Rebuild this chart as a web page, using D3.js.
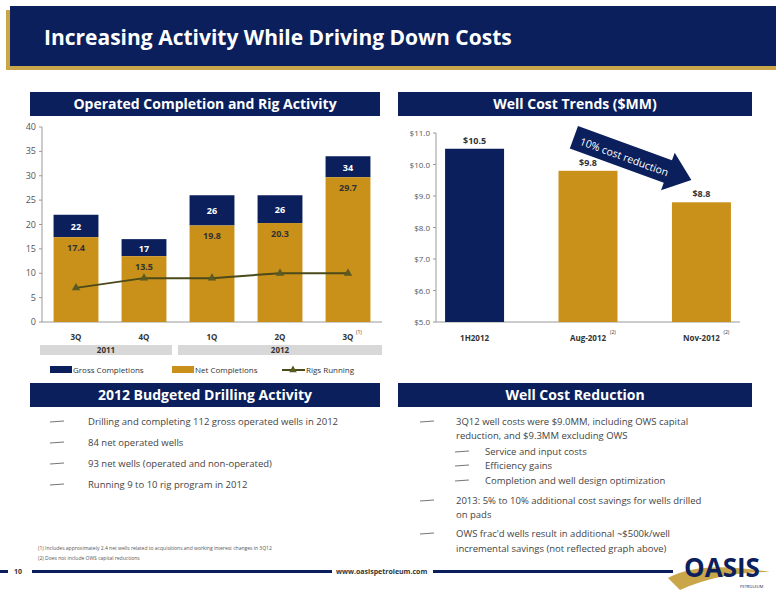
<!DOCTYPE html><html><head><meta charset="utf-8">
<script src="https://cdn.jsdelivr.net/npm/d3@7"></script>
<style>body{margin:0;background:#fff}svg{display:block;font-family:"Open Sans",sans-serif}</style></head><body>
<svg id="s" width="776" height="600"></svg>
<script>
const quarters=["3Q","4Q","1Q","2Q","3Q"];
const gross=[22,17,26,26,34];
const net=[17.4,13.5,19.8,20.3,29.7];
const rigs=[7,9,9,10,10];
const yTicksL=[0,5,10,15,20,25,30,35,40];
const costCats=["1H2012","Aug-2012","Nov-2012"];
const costVals=[10.5,9.8,8.8];
const yTicksR=[5,6,7,8,9,10,11];
const leftBullets=["Drilling and completing 112 gross operated wells in 2012","84 net operated wells","93 net wells (operated and non-operated)","Running 9 to 10 rig program in 2012"];
const NAVY="#0b1f5c",GOLD="#c9901a",GRAY="#555";
const svg=d3.select("#s");
svg.append("rect").attr("x",6).attr("y",10).attr("width",770).attr("height",60).attr("fill","#c9a64a");
svg.append("rect").attr("x",10).attr("y",6).attr("width",766).attr("height",60).attr("fill",NAVY);
svg.append("text").attr("x",44).attr("y",45).attr("fill","#fff").attr("font-size",21).attr("font-weight","bold").text("Increasing Activity While Driving Down Costs");
function bar(x,y,w,t){svg.append("rect").attr("x",x).attr("y",y).attr("width",w).attr("height",24).attr("fill",NAVY);
svg.append("text").attr("x",x+w/2).attr("y",y+17).attr("text-anchor","middle").attr("fill","#fff").attr("font-size",14).attr("font-weight","bold").text(t);}
bar(30,92,350,"Operated Completion and Rig Activity");
bar(398,92,354,"Well Cost Trends ($MM)");
bar(30,383,350,"2012 Budgeted Drilling Activity");
bar(398,383,354,"Well Cost Reduction");
const xL=d3.scaleBand().domain(d3.range(5)).range([42,382]).paddingInner(0.34).paddingOuter(0.17);
const yL=d3.scaleLinear().domain([0,40]).range([322,127]);
const gL=svg.append("g");
gL.append("line").attr("x1",42).attr("x2",42).attr("y1",127).attr("y2",322).attr("stroke","#999");
gL.append("line").attr("x1",42).attr("x2",382).attr("y1",322).attr("y2",322).attr("stroke","#999");
yTicksL.forEach(t=>{gL.append("text").attr("x",36).attr("y",yL(t)+3).attr("text-anchor","end").attr("font-size",9).attr("fill",GRAY).text(t);
gL.append("line").attr("x1",39).attr("x2",42).attr("y1",yL(t)).attr("y2",yL(t)).attr("stroke","#999");});
gross.forEach((g,i)=>{const x=xL(i),w=xL.bandwidth();
gL.append("rect").attr("x",x).attr("y",yL(g)).attr("width",w).attr("height",yL(net[i])-yL(g)).attr("fill",NAVY);
gL.append("rect").attr("x",x).attr("y",yL(net[i])).attr("width",w).attr("height",322-yL(net[i])).attr("fill",GOLD);
gL.append("text").attr("x",x+w/2).attr("y",yL(g)+(yL(net[i])-yL(g))/2+4).attr("text-anchor","middle").attr("fill","#fff").attr("font-size",9).attr("font-weight","bold").text(g);
gL.append("text").attr("x",x+w/2).attr("y",yL(net[i])+14).attr("text-anchor","middle").attr("fill","#333").attr("font-size",9).attr("font-weight","bold").text(net[i]);
gL.append("text").attr("x",x+w/2).attr("y",340).attr("text-anchor","middle").attr("fill","#333").attr("font-size",8).attr("font-weight","bold").text(quarters[i]);});
gL.append("text").attr("x",xL(4)+xL.bandwidth()/2+8).attr("y",334).attr("font-size",5).attr("fill","#333").text("(1)");
const line=d3.line().x((d,i)=>xL(i)+xL.bandwidth()/2).y(d=>yL(d));
gL.append("path").attr("d",line(rigs)).attr("fill","none").attr("stroke","#4a4a1a").attr("stroke-width",2);
rigs.forEach((r,i)=>gL.append("path").attr("transform",`translate(${xL(i)+xL.bandwidth()/2},${yL(r)})`).attr("d",d3.symbol(d3.symbolTriangle,30)()).attr("fill","#5a5a22"));
gL.append("rect").attr("x",40).attr("y",345).attr("width",132).attr("height",10).attr("fill","#d8d8d8");
gL.append("rect").attr("x",178).attr("y",345).attr("width",204).attr("height",10).attr("fill","#d8d8d8");
gL.append("text").attr("x",106).attr("y",353).attr("text-anchor","middle").attr("font-size",8).attr("font-weight","bold").attr("fill","#333").text("2011");
gL.append("text").attr("x",280).attr("y",353).attr("text-anchor","middle").attr("font-size",8).attr("font-weight","bold").attr("fill","#333").text("2012");
gL.append("rect").attr("x",50).attr("y",366).attr("width",22).attr("height",7).attr("fill",NAVY);
gL.append("text").attr("x",73).attr("y",373).attr("font-size",8).attr("fill","#333").text("Gross Completions");
gL.append("rect").attr("x",172).attr("y",366).attr("width",22).attr("height",7).attr("fill",GOLD);
gL.append("text").attr("x",195).attr("y",373).attr("font-size",8).attr("fill","#333").text("Net Completions");
gL.append("line").attr("x1",282).attr("x2",305).attr("y1",370).attr("y2",370).attr("stroke","#4a4a1a").attr("stroke-width",2);
gL.append("path").attr("transform","translate(293,370)").attr("d",d3.symbol(d3.symbolTriangle,25)()).attr("fill","#5a5a22");
gL.append("text").attr("x",306).attr("y",373).attr("font-size",8).attr("fill","#333").text("Rigs Running");
const xR=d3.scaleBand().domain(costCats).range([436,740]).paddingInner(0.48).paddingOuter(0.08);
const yR=d3.scaleLinear().domain([5,11]).range([322,133]);
const gR=svg.append("g");
gR.append("line").attr("x1",436).attr("x2",436).attr("y1",133).attr("y2",322).attr("stroke","#999");
gR.append("line").attr("x1",436).attr("x2",740).attr("y1",322).attr("y2",322).attr("stroke","#999");
yTicksR.forEach(t=>{gR.append("text").attr("x",430).attr("y",yR(t)+3).attr("text-anchor","end").attr("font-size",8).attr("fill",GRAY).text("$"+t.toFixed(1));
gR.append("line").attr("x1",433).attr("x2",436).attr("y1",yR(t)).attr("y2",yR(t)).attr("stroke","#999");});
costVals.forEach((v,i)=>{const c=costCats[i],x=xR(c),w=xR.bandwidth();
gR.append("rect").attr("x",x).attr("y",yR(v)).attr("width",w).attr("height",322-yR(v)).attr("fill",i==0?NAVY:GOLD);
gR.append("text").attr("x",x+w/2).attr("y",yR(v)-5).attr("text-anchor","middle").attr("font-size",9).attr("font-weight","bold").attr("fill","#333").text("$"+v.toFixed(1));
gR.append("text").attr("x",x+w/2).attr("y",341).attr("text-anchor","middle").attr("font-size",8).attr("font-weight","bold").attr("fill","#333").text(c);
if(i>0)gR.append("text").attr("x",x+w/2+22).attr("y",334).attr("font-size",5).attr("fill","#333").text("(2)");});
const ag=svg.append("g").attr("transform","translate(578,126) rotate(20)");
ag.append("path").attr("d","M0,0 L100,0 L100,-8 L125,12 L100,32 L100,24 L0,24 Z").attr("fill",NAVY);
ag.append("text").attr("x",54).attr("y",17).attr("text-anchor","middle").attr("fill","#fff").attr("font-size",10.5).text("10% cost reduction");
function dash(x,y){svg.append("line").attr("x1",x).attr("x2",x+14).attr("y1",y).attr("y2",y-1).attr("stroke","#777").attr("stroke-width",1.2);}
leftBullets.forEach((t,i)=>{const y=425+i*21;dash(50,y-3);svg.append("text").attr("x",88).attr("y",y).attr("font-size",9.5).attr("fill","#444").text(t);});
const rb=[[425,"3Q12 well costs were $9.0MM, including OWS capital",true],[439,"reduction, and $9.3MM excluding OWS",false],[455,"Service and input costs","s"],[469,"Efficiency gains","s"],[484,"Completion and well design optimization","s"],[504,"2013: 5% to 10% additional cost savings for wells drilled",true],[518,"on pads",false],[537,"OWS frac'd wells result in additional ~$500k/well",true],[552,"incremental savings (not reflected graph above)",false]];
rb.forEach(([y,t,b])=>{let x=456;if(b===true)dash(420,y-3);if(b==="s"){dash(455,y-3);x=485;}
svg.append("text").attr("x",x).attr("y",y).attr("font-size",9.5).attr("fill","#444").text(t);});
svg.append("text").attr("x",38).attr("y",550).attr("font-size",5).attr("fill","#555").text("(1)    Includes approximately 2.4 net wells related to acquisitions and working interest changes in 3Q12");
svg.append("text").attr("x",38).attr("y",560).attr("font-size",5).attr("fill","#555").text("(2)    Does not include OWS capital reductions");
svg.append("rect").attr("x",0).attr("y",570).attr("width",8).attr("height",3).attr("fill",NAVY);
svg.append("text").attr("x",14).attr("y",574).attr("font-size",7).attr("font-weight","bold").attr("fill","#333").text("10");
svg.append("rect").attr("x",32).attr("y",570).attr("width",300).attr("height",3).attr("fill",NAVY);
svg.append("text").attr("x",336).attr("y",574).attr("font-size",7).attr("font-weight","bold").attr("fill","#333").text("www.oasispetroleum.com");
svg.append("rect").attr("x",433).attr("y",570).attr("width",240).attr("height",3).attr("fill",NAVY);
svg.append("path").attr("d","M668,578 Q700,560 770,572 Q720,572 680,590 Z").attr("fill","#c9a64a");
svg.append("text").attr("x",722).attr("y",577).attr("text-anchor","middle").attr("font-size",26).attr("font-weight","bold").attr("fill",NAVY).text("OASIS");
svg.append("text").attr("x",740).attr("y",588).attr("font-size",4).attr("fill",NAVY).text("PETROLEUM");
</script></body></html>
